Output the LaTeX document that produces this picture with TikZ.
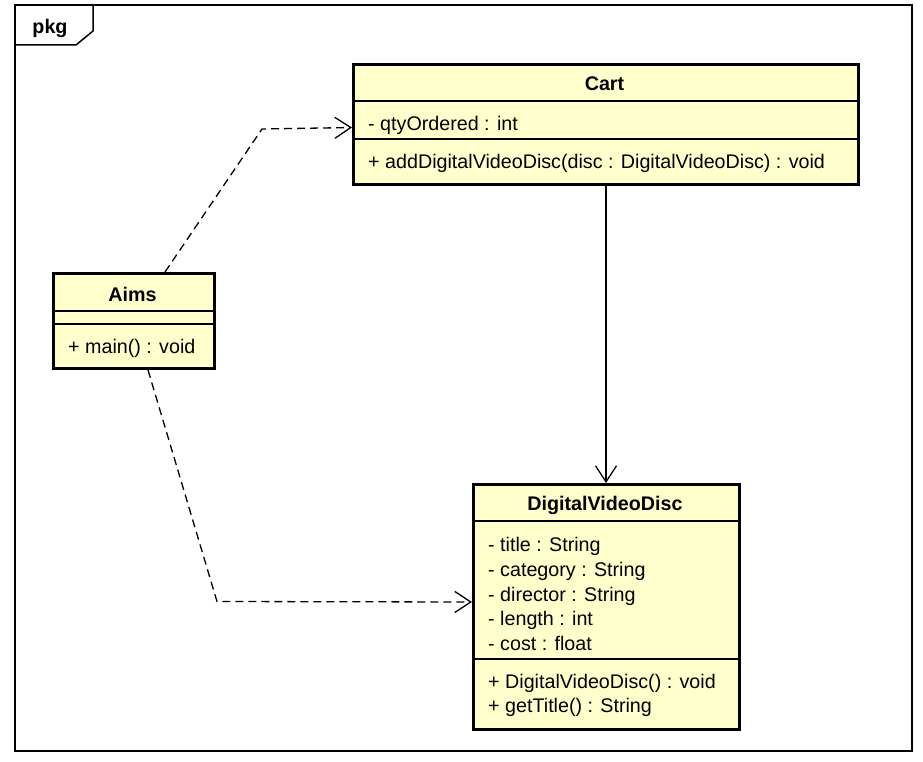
\documentclass[tikz,border=0pt]{standalone}
\usepackage{fontspec}
\setmainfont{Liberation Sans}
\usetikzlibrary{arrows.meta}
\definecolor{classfill}{RGB}{255,255,204}
\begin{document}
\begin{tikzpicture}[x=1pt,y=-1pt,
  classbox/.style={draw,line width=3pt,fill=classfill,anchor=north west,inner sep=0pt},
  sep/.style={line width=1.3pt},
  classname/.style={font=\fontsize{19.7}{22}\selectfont\bfseries,anchor=base,inner sep=0pt},
  member/.style={font=\fontsize{19.7}{22}\selectfont,anchor=base west,inner sep=0pt},
  barb/.style={-{Straight Barb[length=16pt,width=21pt,line width=1.3pt]}},
  dep/.style={barb,line width=1.3pt,dash pattern=on 8pt off 5pt},
  assoc/.style={barb,line width=1.3pt}]
\useasboundingbox (0,0) rectangle (923,762);

% package frame with its name tab
\draw[line width=2pt] (15,5) rectangle (912,751);
\draw[line width=1.5pt] (15,45) -- (76,45) -- (93,31) -- (93,5);
\node[classname] (pkg) at (50,34) {pkg};

% class Cart
\node[classbox,minimum width=505pt,minimum height=120pt] (cart) at (352,63) {};
\draw[sep] (cart.west |- 0,101) -- (cart.east |- 0,101);
\draw[sep] (cart.west |- 0,139) -- (cart.east |- 0,139);
\node[classname] (cartname) at (604.5,91) {Cart};
\node[member] (cartattr) at (368,131) {- qtyOrdered : int};
\node[member] (cartops) at (368,168.5) {+ addDigitalVideoDisc(disc : DigitalVideoDisc) : void};

% class Aims
\node[classbox,minimum width=161pt,minimum height=95pt] (aims) at (52,272) {};
\draw[sep] (aims.west |- 0,311) -- (aims.east |- 0,311);
\draw[sep] (aims.west |- 0,324) -- (aims.east |- 0,324);
\node[classname] (aimsname) at (132.5,301) {Aims};
\node[member] (aimsops) at (68,353) {+ main() : void};

% class DigitalVideoDisc
\node[classbox,minimum width=266pt,minimum height=245pt] (dvd) at (472,483) {};
\draw[sep] (dvd.west |- 0,521) -- (dvd.east |- 0,521);
\draw[sep] (dvd.west |- 0,659) -- (dvd.east |- 0,659);
\node[classname] (dvdname) at (605,510) {DigitalVideoDisc};
\node[member] (attrtitle) at (488,551) {- title : String};
\node[member] (attrcategory) at (488,576) {- category : String};
\node[member] (attrdirector) at (488,601) {- director : String};
\node[member] (attrlength) at (488,625.5) {- length : int};
\node[member] (attrcost) at (488,650) {- cost : float};
\node[member] (opctor) at (488,688) {+ DigitalVideoDisc() : void};
\node[member] (opgettitle) at (488,712) {+ getTitle() : String};

% relations
\draw[dep] (aims.north -| 165,0) -- (262,129) -- (cart.west |- 0,127.5);
\draw[dep] (aims.south -| 148,0) -- (217,601.5) -- (dvd.west |- 0,602);
\draw[assoc] (cart.south) -- (cart.south |- dvd.north);
\end{tikzpicture}
\end{document}
